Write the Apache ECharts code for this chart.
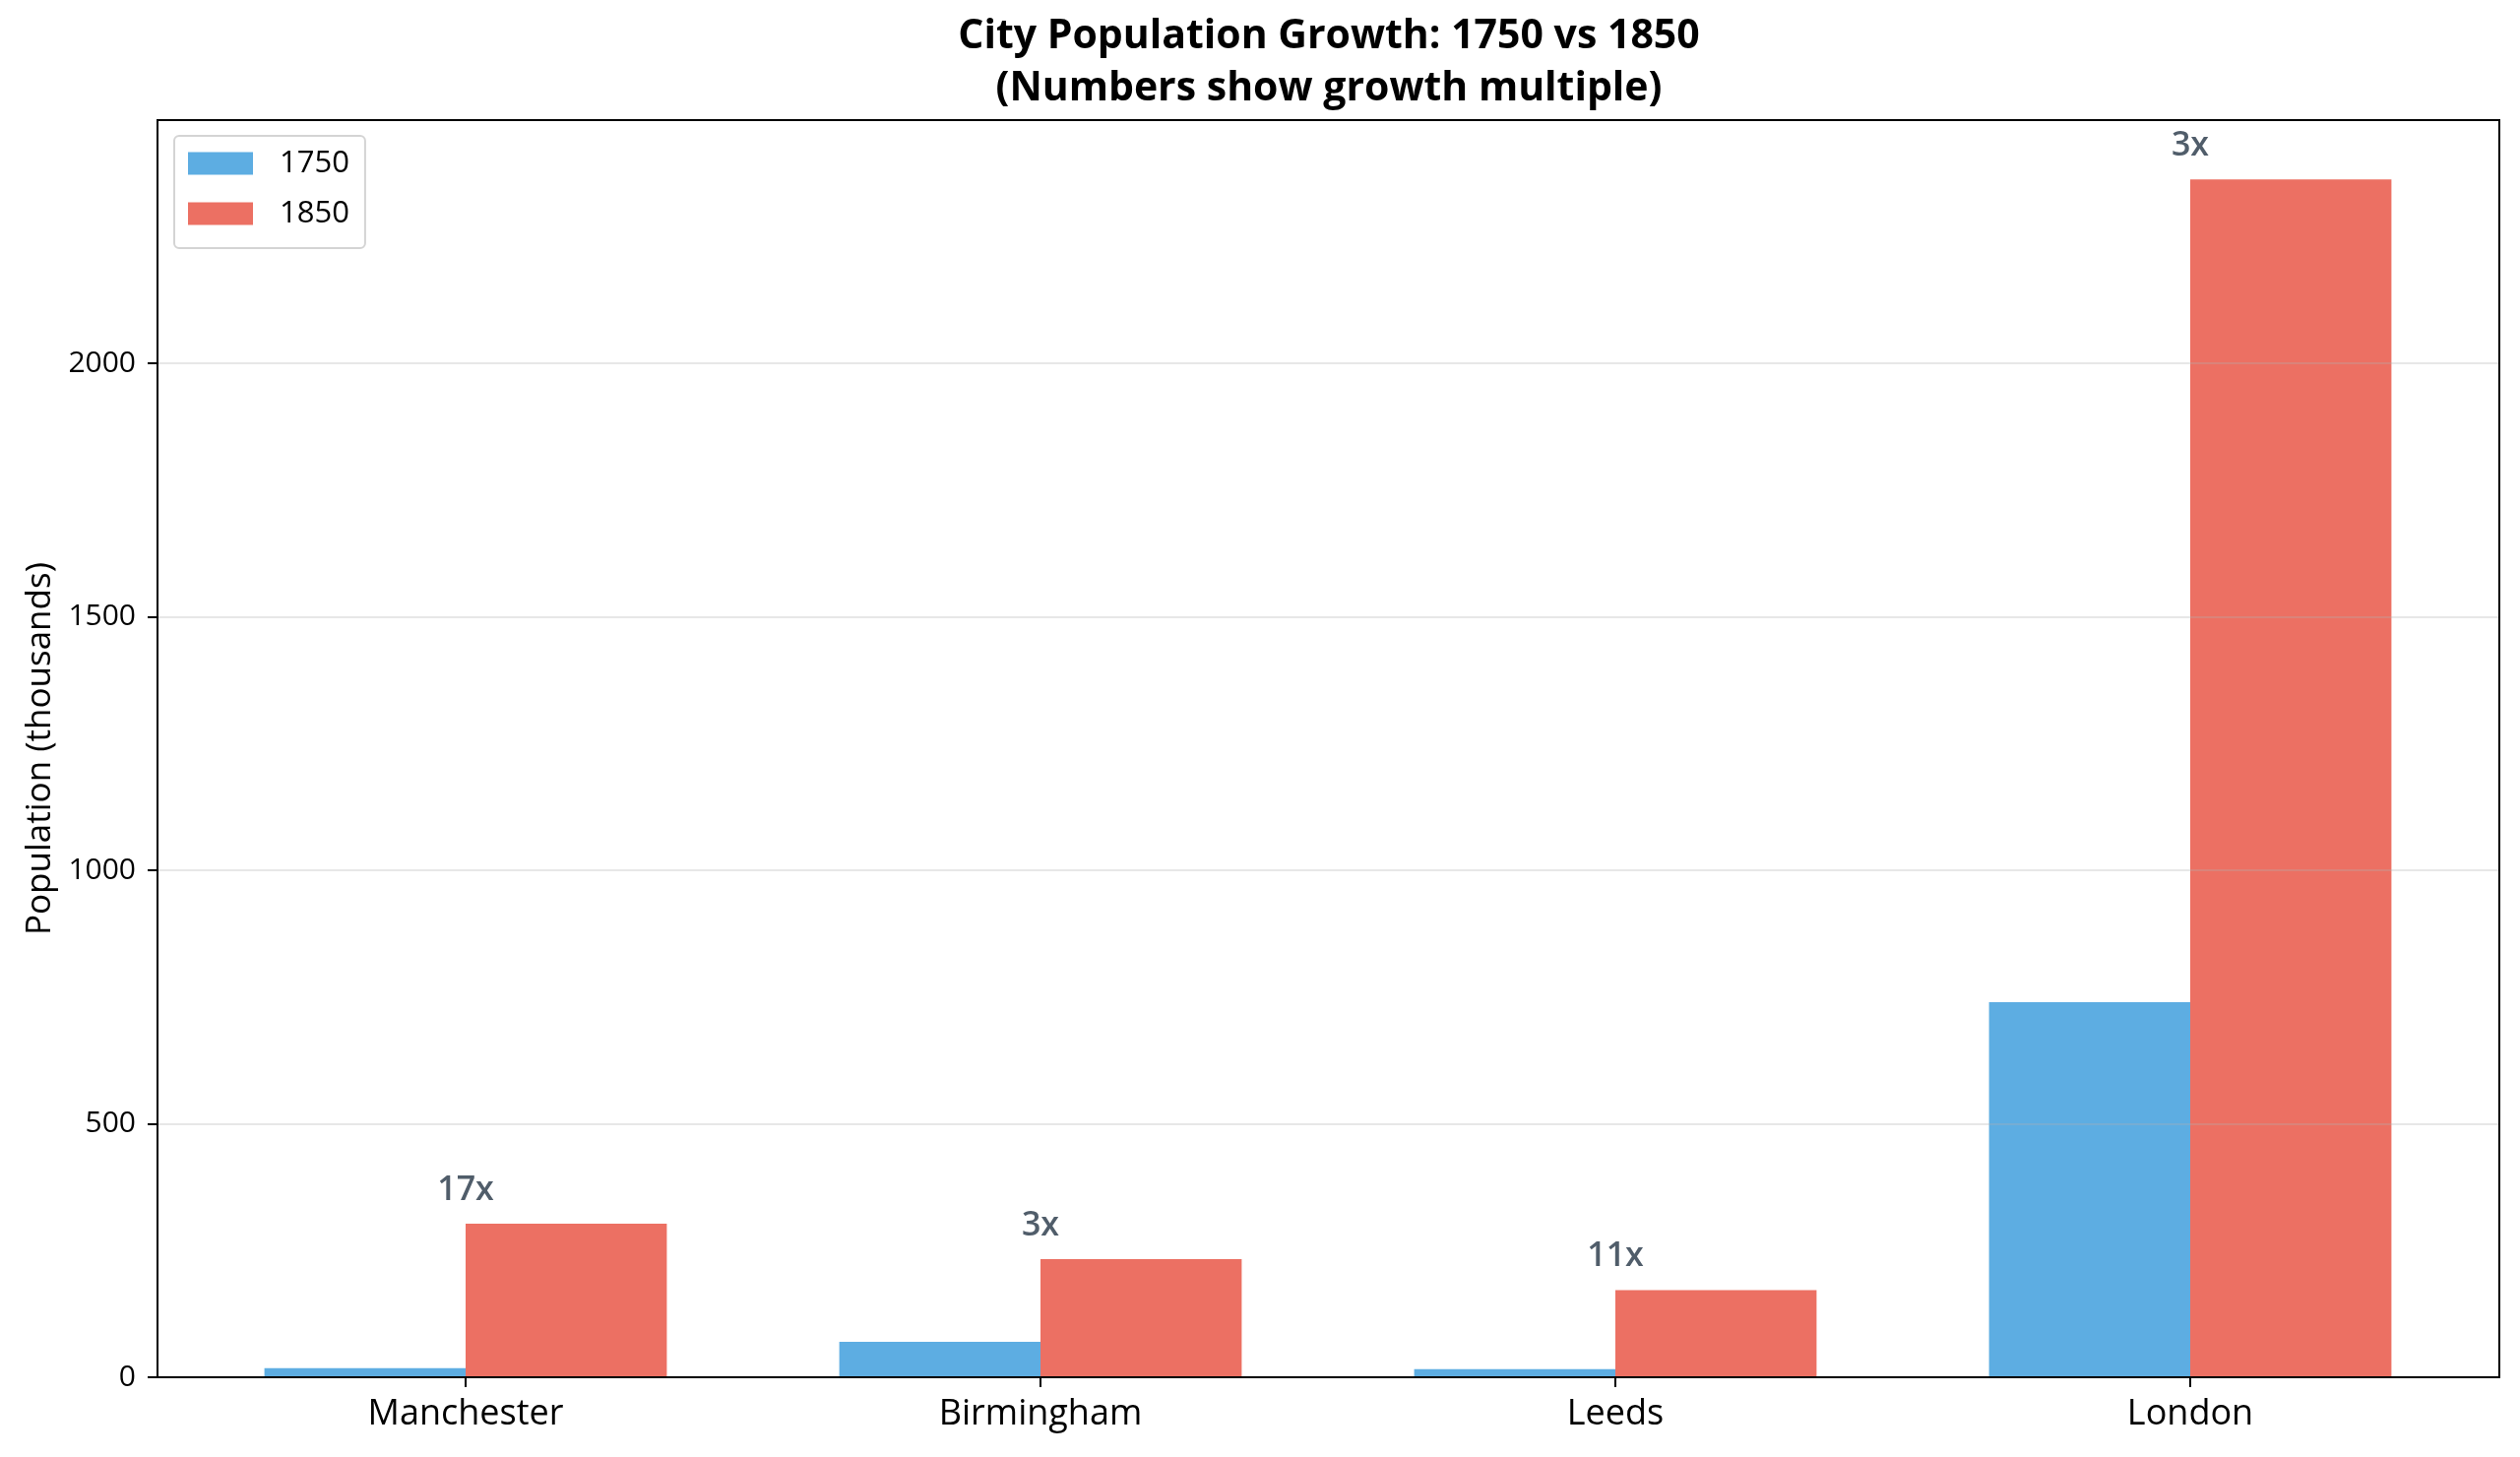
<!DOCTYPE html>
<html>
<head>
<meta charset="utf-8">
<script src="https://cdn.jsdelivr.net/npm/echarts@6/dist/echarts.min.js"></script>
<style>
  html, body { margin: 0; padding: 0; background: #fff; }
  #chart { width: 2560px; height: 1480px; }
</style>
</head>
<body>
<div id="chart"></div>
<script>
// Data (population in thousands)
const cities = ["Manchester", "Birmingham", "Leeds", "London"];
const seriesNames = ["1750", "1850"];
const pop1750 = [18, 70, 16, 740];
const pop1850 = [303, 233, 172, 2363];
const growthLabels = ["17x", "3x", "11x", "3x"];

const Y_MAX = 2480; // matplotlib-style 5% headroom over the tallest bar
const FONT = '"Open Sans", "Noto Sans", sans-serif';
const BLUE = "#5dade2";
const RED = "#ec7063";

// Frame grid spans the full axes box, data grid is narrowed so the
// category bands get the same spacing as the reference (x margins)
const frameGrid = { left: 160, right: 21, top: 122, bottom: 81 };
const dataGrid = { left: 181, right: 43, top: 122, bottom: 81 };

const chart = echarts.init(document.getElementById("chart"), null, { renderer: "canvas" });

chart.setOption({
  backgroundColor: "#fff",
  animation: false,
  textStyle: { fontFamily: FONT },
  title: {
    text: "City Population Growth: 1750 vs 1850\n(Numbers show growth multiple)",
    left: 1350,
    top: 11,
    padding: 0,
    textAlign: "center",
    textStyle: {
      fontFamily: FONT,
      fontSize: 41,
      fontWeight: "bold",
      lineHeight: 53,
      color: "#000",
    },
  },
  legend: {
    data: seriesNames,
    orient: "vertical",
    left: 177,
    top: 138,
    padding: [11, 16, 18, 14],
    itemWidth: 66,
    itemHeight: 23,
    itemGap: 17,
    borderColor: "#d4d4d4",
    borderWidth: 2,
    borderRadius: 5,
    backgroundColor: "rgba(255,255,255,0.8)",
    icon: "rect",
    textStyle: {
      fontFamily: FONT,
      fontSize: 31,
      lineHeight: 34,
      color: "#000",
      padding: [0, 0, 0, 22],
    },
  },
  grid: [
    Object.assign({ show: true, borderColor: "#000", borderWidth: 2, backgroundColor: "transparent", z: 5 }, frameGrid),
    Object.assign({ show: false }, dataGrid),
  ],
  xAxis: [
    { gridIndex: 0, type: "value", show: false, min: 0, max: 1 },
    {
      gridIndex: 1,
      type: "category",
      data: cities,
      axisLine: { show: false },
      axisTick: { show: true, alignWithLabel: true, inside: false, length: 10, lineStyle: { color: "#000", width: 2 } },
      axisLabel: { fontFamily: FONT, fontSize: 36, color: "#000", margin: 20 },
      splitLine: { show: false },
    },
  ],
  yAxis: [
    {
      gridIndex: 0,
      type: "value",
      min: 0,
      max: Y_MAX,
      interval: 500,
      z: 4,
      name: "Population (thousands)",
      nameLocation: "middle",
      nameGap: 95,
      nameTextStyle: { fontFamily: FONT, fontSize: 35, color: "#000" },
      axisLine: { show: false },
      axisTick: { show: true, length: 10, lineStyle: { color: "#000", width: 2 } },
      axisLabel: {
        fontFamily: FONT,
        fontSize: 30,
        color: "#000",
        margin: 22,
        showMaxLabel: false,
        formatter: v => String(v),
      },
      splitLine: { show: true, lineStyle: { color: "rgba(176,176,176,0.3)", width: 2 } },
    },
    { gridIndex: 1, type: "value", min: 0, max: Y_MAX, show: false },
  ],
  series: [
    {
      name: seriesNames[0],
      type: "bar",
      xAxisIndex: 1,
      yAxisIndex: 1,
      data: pop1750,
      barWidth: "35%",
      barGap: "0%",
      itemStyle: { color: BLUE },
    },
    {
      name: seriesNames[1],
      type: "bar",
      xAxisIndex: 1,
      yAxisIndex: 1,
      data: pop1850,
      barWidth: "35%",
      barGap: "0%",
      itemStyle: { color: RED },
    },
    {
      // invisible points at the category centre carrying the growth text
      name: "growth",
      type: "scatter",
      xAxisIndex: 1,
      yAxisIndex: 1,
      data: pop1850,
      symbolSize: 0,
      silent: true,
      z: 10,
      label: {
        show: true,
        position: "top",
        distance: 17,
        formatter: p => growthLabels[p.dataIndex],
        fontFamily: FONT,
        fontSize: 34,
        fontWeight: 600,
        color: "#243445",
      },
    },
  ],
});

window.addEventListener("resize", () => chart.resize());
</script>
</body>
</html>
